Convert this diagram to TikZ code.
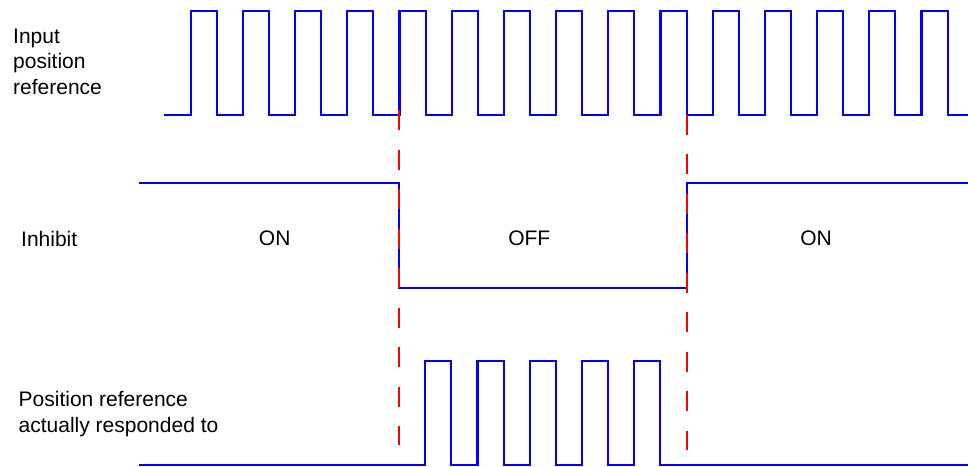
\documentclass[tikz,border=0pt]{standalone}
\usepackage{fontspec}
\setmainfont{Liberation Sans}
\definecolor{wblue}{RGB}{0,0,255}
\definecolor{mred}{RGB}{255,0,0}
\begin{document}
\begin{tikzpicture}[x=1pt,y=-1pt,
  wave/.style={draw=wblue,line width=2.1pt,line join=miter},
  marker/.style={draw=mred,line width=2pt,dash pattern=on 20pt off 19.5pt},
  lbl/.style={inner sep=0pt,font=\fontsize{21}{25.5}\selectfont,align=left,anchor=base west},
  state/.style={inner sep=0pt,font=\fontsize{21}{25.5}\selectfont}]
\useasboundingbox (0,0) rectangle (968,466);
% labels (anchor at baseline of last line)
\node[lbl] (inlbl) at (13,94) {Input\\position\\reference};
\node[lbl] (inhlbl) at (21,246) {Inhibit};
\node[lbl] (outlbl) at (18.5,432) {Position reference\\actually responded to};
\node[state] (on1) at (274.7,238.5) {ON};
\node[state] (off) at (529.3,238.5) {OFF};
\node[state] (on2) at (816,238.5) {ON};
% red markers
\coordinate (m1a) at (399.3,110);
\coordinate (m1b) at (399.3,445);
\coordinate (m2a) at (686.6,114.5);
\coordinate (m2b) at (686.6,450);
% input position reference
\draw[wave] (164,115.3)
  \foreach \k in {0,...,14}{
    -- ({190.7+52.2*\k},115.3) -- ({190.7+52.2*\k},11) -- ({216.8+52.2*\k},11) -- ({216.8+52.2*\k},115.3)
  } -- (968,115.3);
% inhibit
\draw[wave] (138.7,183) -- (399.3,183) -- (399.3,287.7) -- (686.6,287.7) -- (686.6,183) -- (968,183);
% responded reference
\draw[wave] (138.5,465)
  \foreach \k in {0,...,4}{
    -- ({425.3+52.2*\k},465) -- ({425.3+52.2*\k},360.7) -- ({451.4+52.2*\k},360.7) -- ({451.4+52.2*\k},465)
  } -- (968,465);
\draw[marker] (m1a) -- (m1b);
\draw[marker] (m2a) -- (m2b);
\end{tikzpicture}
\end{document}
